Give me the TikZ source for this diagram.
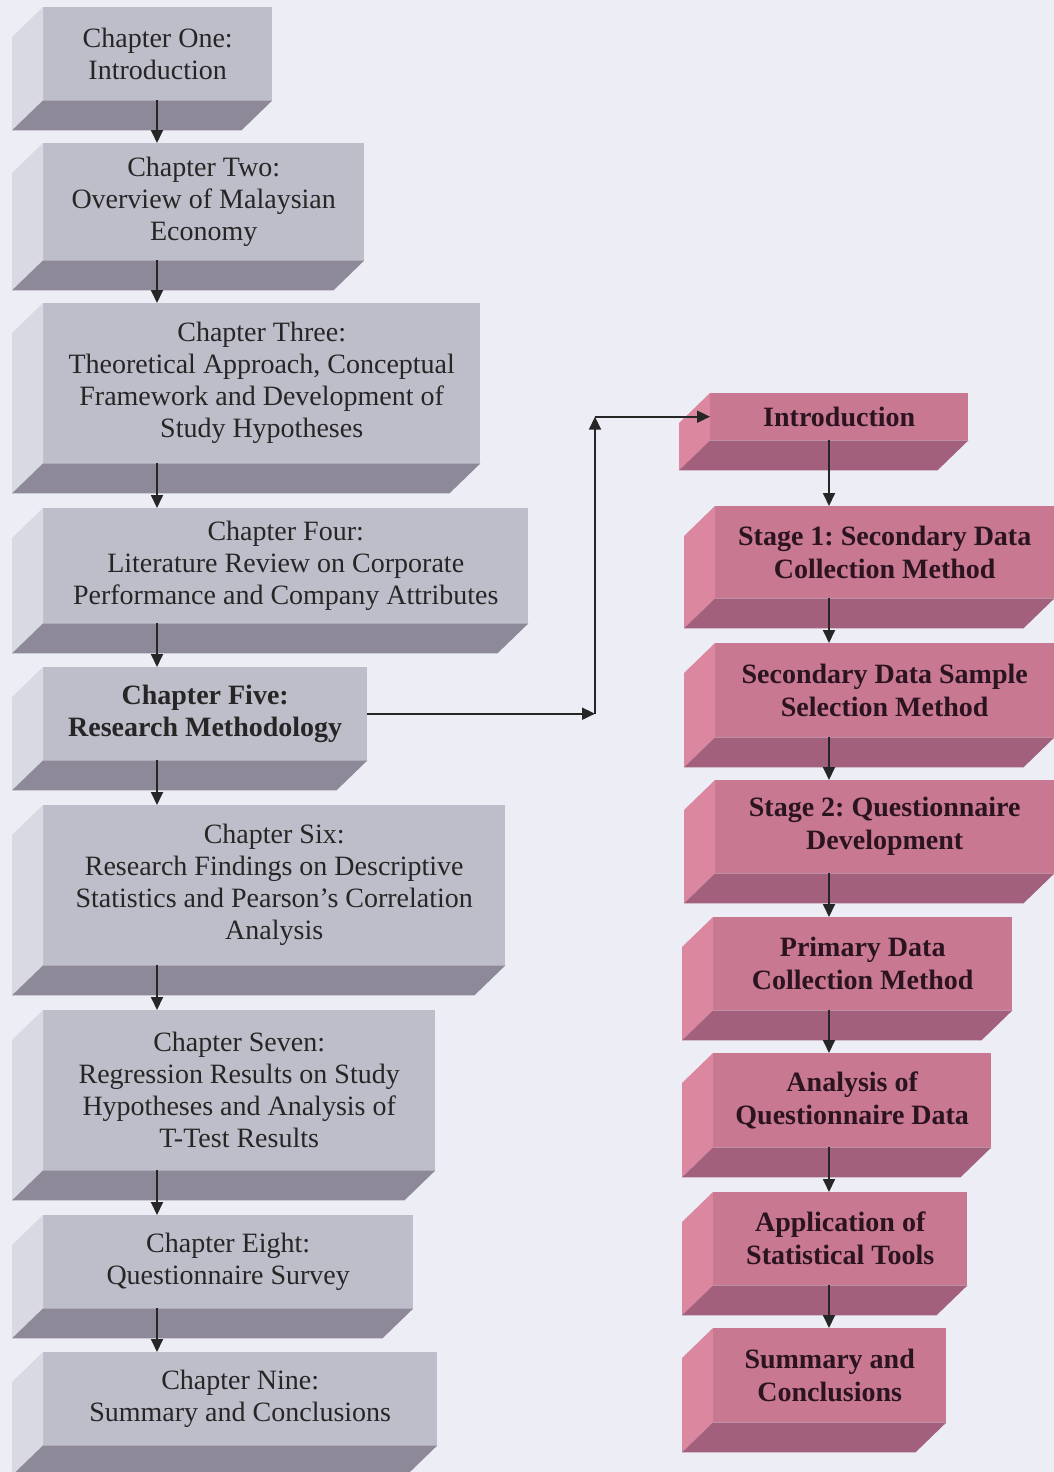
\documentclass[tikz,border=0pt]{standalone}
\usepackage{fontspec}
\setmainfont{Liberation Serif}
\definecolor{pgPage}{HTML}{EDEEF5}
\definecolor{pgGrey}{HTML}{BEBECA}
\definecolor{pgGreySide}{HTML}{D9D9E3}
\definecolor{pgGreyBase}{HTML}{8E8998}
\definecolor{pgRose}{HTML}{C87891}
\definecolor{pgRoseSide}{HTML}{DB87A0}
\definecolor{pgRoseBase}{HTML}{A3607D}
\definecolor{pgInk}{HTML}{262626}
\definecolor{pgInkRose}{HTML}{2B1420}
\usepackage{tikz}
\usetikzlibrary{calc,arrows.meta}
\frenchspacing

% side and base faces of a slab, behind the named front node
\newcommand{\slab}[3]{%
  \fill[#2] (#1.north west) -- (#1.south west) -- ($(#1.south west)+(-31,30)$) -- ($(#1.north west)+(-31,30)$) -- cycle;
  \fill[#3] (#1.south west) -- (#1.south east) -- ($(#1.south east)+(-31,30)$) -- ($(#1.south west)+(-31,30)$) -- cycle;
}

\begin{document}
\begin{tikzpicture}[x=1pt, y=-1pt,
  chap/.style={anchor=north west, fill=pgGrey, text=pgInk, align=center, inner sep=0pt,
    font=\fontsize{28}{32}\selectfont},
  stage/.style={anchor=north west, fill=pgRose, text=pgInkRose, align=center, inner sep=0pt,
    font=\fontsize{28}{33}\selectfont\bfseries},
  link/.style={draw=pgInk, line width=1.8pt, -{Triangle[length=13pt,width=12pt]}}]
  % page
  \fill[pgPage] (0,0) rectangle (1054,1472);
  \useasboundingbox (0,0) rectangle (1054,1472);

  % Thesis chapters (left column)
  \node[chap, minimum width=229pt, minimum height=93pt] (one) at (43,7) {Chapter One:\\Introduction};
  \node[chap, minimum width=321pt, minimum height=117pt] (two) at (43,143) {Chapter Two:\\Overview of Malaysian\\Economy};
  \node[chap, minimum width=437pt, minimum height=160pt] (three) at (43,303) {Chapter Three:\\Theoretical Approach, Conceptual\\Framework and Development of\\Study Hypotheses};
  \node[chap, minimum width=485pt, minimum height=115pt] (four) at (43,508) {Chapter Four:\\Literature Review on Corporate\\Performance and Company Attributes};
  \node[chap, minimum width=324pt, minimum height=93pt, font=\fontsize{28}{32}\selectfont\bfseries] (five) at (43,667) {Chapter Five:\\Research Methodology};
  \node[chap, minimum width=462pt, minimum height=160pt] (six) at (43,805) {Chapter Six:\\Research Findings on Descriptive\\Statistics and Pearson’s Correlation\\Analysis};
  \node[chap, minimum width=392pt, minimum height=160pt] (seven) at (43,1010) {Chapter Seven:\\Regression Results on Study\\Hypotheses and Analysis of\\T-Test Results};
  \node[chap, minimum width=370pt, minimum height=93pt] (eight) at (43,1215) {Chapter Eight:\\Questionnaire Survey};
  \node[chap, minimum width=394pt, minimum height=93pt] (nine) at (43,1352) {Chapter Nine:\\Summary and Conclusions};

  % Methodology stages (right column)
  \node[stage, minimum width=258pt, minimum height=47pt] (intro) at (710,393) {Introduction};
  \node[stage, minimum width=339pt, minimum height=92pt] (stageone) at (715,506) {Stage 1: Secondary Data\\Collection Method};
  \node[stage, minimum width=339pt, minimum height=94pt] (sample) at (715,643) {Secondary Data Sample\\Selection Method};
  \node[stage, minimum width=339pt, minimum height=93pt] (stagetwo) at (715,780) {Stage 2: Questionnaire\\Development};
  \node[stage, minimum width=299pt, minimum height=93pt] (primary) at (713,917) {Primary Data\\Collection Method};
  \node[stage, minimum width=278pt, minimum height=94pt] (analysis) at (713,1053) {Analysis of\\Questionnaire Data};
  \node[stage, minimum width=254pt, minimum height=93pt] (tools) at (713,1192) {Application of\\Statistical Tools};
  \node[stage, minimum width=233pt, minimum height=94pt] (summary) at (713,1328) {Summary and\\Conclusions};

  % slab depth
  \slab{one}{pgGreySide}{pgGreyBase}
  \slab{two}{pgGreySide}{pgGreyBase}
  \slab{three}{pgGreySide}{pgGreyBase}
  \slab{four}{pgGreySide}{pgGreyBase}
  \slab{five}{pgGreySide}{pgGreyBase}
  \slab{six}{pgGreySide}{pgGreyBase}
  \slab{seven}{pgGreySide}{pgGreyBase}
  \slab{eight}{pgGreySide}{pgGreyBase}
  \slab{nine}{pgGreySide}{pgGreyBase}
  \slab{intro}{pgRoseSide}{pgRoseBase}
  \slab{stageone}{pgRoseSide}{pgRoseBase}
  \slab{sample}{pgRoseSide}{pgRoseBase}
  \slab{stagetwo}{pgRoseSide}{pgRoseBase}
  \slab{primary}{pgRoseSide}{pgRoseBase}
  \slab{analysis}{pgRoseSide}{pgRoseBase}
  \slab{tools}{pgRoseSide}{pgRoseBase}
  \slab{summary}{pgRoseSide}{pgRoseBase}

  % arrow lines
  \coordinate (lspine) at (157,0);
  \coordinate (rspine) at (829,0);
  \coordinate (turn) at (five.east -| 595,0);
  \coordinate (rise) at (intro.west -| turn);

  \draw[link] (one.south -| lspine) -- (two.north -| lspine);
  \draw[link] (two.south -| lspine) -- (three.north -| lspine);
  \draw[link] (three.south -| lspine) -- (four.north -| lspine);
  \draw[link] (four.south -| lspine) -- (five.north -| lspine);
  \draw[link] (five.south -| lspine) -- (six.north -| lspine);
  \draw[link] (six.south -| lspine) -- (seven.north -| lspine);
  \draw[link] (seven.south -| lspine) -- (eight.north -| lspine);
  \draw[link] (eight.south -| lspine) -- (nine.north -| lspine);

  \draw[link] (five.east) -- (turn);
  \draw[link] (turn) -- (rise);
  \draw[link] (rise) -- (intro.west);

  \draw[link] (intro.south -| rspine) -- (stageone.north -| rspine);
  \draw[link] (stageone.south -| rspine) -- (sample.north -| rspine);
  \draw[link] (sample.south -| rspine) -- (stagetwo.north -| rspine);
  \draw[link] (stagetwo.south -| rspine) -- (primary.north -| rspine);
  \draw[link] (primary.south -| rspine) -- (analysis.north -| rspine);
  \draw[link] (analysis.south -| rspine) -- (tools.north -| rspine);
  \draw[link] (tools.south -| rspine) -- (summary.north -| rspine);
\end{tikzpicture}
\end{document}
